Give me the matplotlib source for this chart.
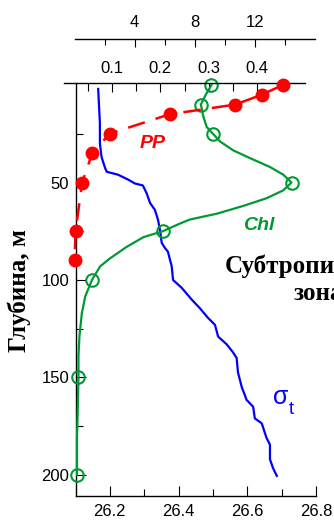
import numpy as np
import matplotlib
matplotlib.use('Agg')
from matplotlib import pyplot as plt
from matplotlib.ticker import FixedLocator, NullFormatter

plt.rcParams['font.family'] = ['Liberation Sans', 'DejaVu Sans']

# sigma-t profile (depth, m / conditional density)
sigma_depth = [2, 9, 19.5, 30, 37, 42.5, 44.5, 46, 48.5, 50.5, 51.5, 55.5, 60.5, 64, 69,
               74.5, 81, 83.5, 85.5, 93, 100, 104, 110, 114.5, 119.5, 123, 129, 133, 137,
               140, 147.5, 155, 161.5, 165, 171, 173.5, 181, 184.5, 192, 196.5, 200.5]
sigma_val = [26.166, 26.168, 26.171, 26.171, 26.176, 26.186, 26.191, 26.224, 26.253, 26.273,
             26.296, 26.307, 26.317, 26.331, 26.340, 26.346, 26.351, 26.360, 26.369, 26.380,
             26.384, 26.409, 26.438, 26.462, 26.486, 26.506, 26.515, 26.540, 26.558, 26.569,
             26.573, 26.584, 26.598, 26.617, 26.622, 26.642, 26.656, 26.666, 26.666, 26.675,
             26.686]

# chlorophyll at the sampled depths
chl_depth = [0, 10, 25, 50, 75, 100, 150, 200]
chl_val = [0.306, 0.284, 0.309, 0.472, 0.205, 0.058, 0.030, 0.027]
# smoothed chlorophyll curve
chl_line_depth = [0, 5, 10, 16, 21.5, 25, 29, 33.5, 37.5, 42, 46, 50, 54, 58, 62, 66, 69,
                  71, 75, 78, 83, 89, 93, 100, 108.5, 117, 129, 139, 150, 172, 180, 200]
chl_line_val = [0.306, 0.294, 0.284, 0.289, 0.296, 0.309, 0.324, 0.351, 0.386, 0.427,
                0.455, 0.472, 0.455, 0.421, 0.372, 0.317, 0.261, 0.241, 0.205, 0.165,
                0.130, 0.095, 0.075, 0.058, 0.044, 0.037, 0.032, 0.030, 0.030, 0.028,
                0.027, 0.027]

# primary production
pp_depth = [0, 5, 10, 15, 25, 35, 50, 75, 90]
pp_val = [13.85, 12.45, 10.7, 6.33, 2.33, 1.18, 0.51, 0.07, 0.0]

W, H = 334.0, 523.0
left, right, top, bottom = 75.5, 316.0, 82.5, 496.0
ylim = (210.8, -1.3)

fig = plt.figure(figsize=(W / 100, H / 100), dpi=100)
rect_b = 1 - bottom / H
rect_h = (bottom - top) / H

# sigma-t on the main axes
ax = fig.add_axes([left / W, rect_b, (right - left) / W, rect_h])
ax.plot(sigma_val, sigma_depth, color='#0000ff', lw=1.6)
ax.set_xlim(26.1, 26.8)
ax.set_ylim(*ylim)
ax.spines['top'].set_visible(False)
ax.spines['right'].set_visible(False)
ax.xaxis.set_major_locator(FixedLocator([26.2, 26.4, 26.6, 26.8]))
ax.xaxis.set_minor_locator(FixedLocator([26.3, 26.5, 26.7]))
ax.set_xticklabels(['26.2', '26.4', '26.6', '26.8'])
ax.yaxis.set_major_locator(FixedLocator([50, 100, 150, 200]))
ax.yaxis.set_minor_locator(FixedLocator([25, 75, 125, 175]))
ax.tick_params(which='both', direction='in', labelsize=12, width=0.8)
ax.tick_params(which='major', length=7)
ax.tick_params(which='minor', length=5)
ax.tick_params(axis='x', pad=5.5)
ax.tick_params(axis='y', pad=4.5)

# chlorophyll axis, shifted a bit to the left
chl_left, chl_right = 64.0, 305.0
ax2 = fig.add_axes([chl_left / W, rect_b, (chl_right - chl_left) / W, rect_h])
ax2.patch.set_visible(False)
ax2.plot(chl_line_val, chl_line_depth, color='#009933', lw=1.6)
ax2.plot(chl_val, chl_depth, 'o', ms=9, mfc='none', mec='#009933', mew=1.5, clip_on=False)
ax2.set_xlim(0, 0.5)
ax2.set_ylim(*ylim)
for s in ['left', 'right', 'bottom']:
    ax2.spines[s].set_visible(False)
ax2.xaxis.tick_top()
ax2.xaxis.set_major_locator(FixedLocator([0.1, 0.2, 0.3, 0.4]))
ax2.xaxis.set_minor_locator(FixedLocator([0.05, 0.15, 0.25, 0.35, 0.45]))
ax2.set_xticklabels(['0.1', '0.2', '0.3', '0.4'])
ax2.set_yticks([])
ax2.tick_params(which='both', direction='in', labelsize=12, width=0.8, pad=4.7)
ax2.tick_params(which='major', length=6.5)
ax2.tick_params(which='minor', length=5.5)

# primary production axis, moved up above the chlorophyll one
pp_left, pp_right = 74.5, 315.0
ax3 = fig.add_axes([pp_left / W, rect_b, (pp_right - pp_left) / W, rect_h])
ax3.patch.set_visible(False)
ax3.plot(pp_val, pp_depth, color='#ff0000', lw=1.8, dashes=(7, 4.5), clip_on=False)
ax3.plot(pp_val, pp_depth, 'o', ms=9, color='#ff0000', clip_on=False)
ax3.set_xlim(0, 16)
ax3.set_ylim(*ylim)
for s in ['left', 'right', 'bottom']:
    ax3.spines[s].set_visible(False)
ax3.spines['top'].set_position(('outward', (top - 39) * 0.72))
ax3.xaxis.tick_top()
ax3.xaxis.set_major_locator(FixedLocator([4, 8, 12]))
ax3.xaxis.set_minor_locator(FixedLocator([2, 6, 10, 14]))
ax3.set_xticklabels(['4', '8', '12'])
ax3.set_yticks([])
ax3.tick_params(which='both', direction='in', labelsize=12, width=0.8, pad=6.3)
ax3.tick_params(which='major', length=6)
ax3.tick_params(which='minor', length=4.5)

for a in (ax, ax2, ax3):
    for sp in a.spines.values():
        sp.set_linewidth(1.0)

# curve labels
fig.text(153 / W, 1 - 143 / H, 'PP', color='#ff0000', fontsize=14, fontweight='bold',
         fontstyle='italic', ha='center', va='center')
fig.text(259 / W, 1 - 225 / H, 'Chl', color='#009933', fontsize=14, fontweight='bold',
         fontstyle='italic', ha='center', va='center')
fig.text(281 / W, 1 - 397 / H, 'σ', color='#0000ff', fontsize=18, ha='center', va='center')
fig.text(291 / W, 1 - 410 / H, 't', color='#0000ff', fontsize=13, ha='center', va='center')

fig.text(318 / W, 1 - 300 / H, 'Субтропическая\nзона', fontsize=18, fontweight='bold',
         family='Liberation Serif', ha='center', va='baseline', multialignment='center')
fig.text(19 / W, 1 - 291 / H, 'Глубина, м', fontsize=18, fontweight='bold',
         family='Liberation Serif', rotation=90, ha='center', va='center')

fig.savefig('out.png', dpi=100)
